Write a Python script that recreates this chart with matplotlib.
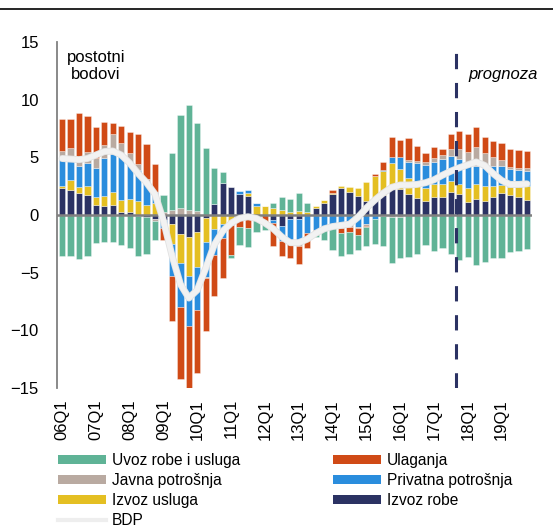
import numpy as np
import matplotlib
matplotlib.use("Agg")
import matplotlib.pyplot as plt
import matplotlib.patheffects as pe
from matplotlib.lines import Line2D
from matplotlib.patches import Patch

plt.rcParams['font.family'] = ['Liberation Sans', 'DejaVu Sans']

# kvartali 2006Q1 - 2019Q4
quarters = [f"{y:02d}Q{q}" for y in range(6, 20) for q in range(1, 5)]
tick_labels = [f"{y:02d}Q1" for y in range(6, 20)]

izvoz_robe = [2.37, 2.17, 1.88, 1.71, 0.87, 0.81, 0.87, 0.23, 0.23, -0.10,
              -0.15, -0.35, -0.43, -0.80, -1.68, -1.88, -1.50, -0.23, 0.92, 2.75,
              2.40, 1.80, 1.65, 0.00, 0.00, -0.43, -0.92, -0.38, -0.38, 0.00,
              0.60, 1.01, 1.79, 2.31, 2.02, 1.65, 1.21, 1.36, 1.70, 2.25,
              2.23, 1.79, 1.45, 1.21, 1.59, 1.53, 2.02, 1.79, 1.10, 1.36,
              1.21, 1.53, 1.88, 1.73, 1.59, 1.30]
izvoz_usluga = [0.17, 0.86, 0.55, 0.80, 0.66, 0.84, 1.15, 1.07, 1.13, 1.21,
                0.90, 1.00, 0.00, -1.75, -2.50, -3.41, -3.03, -2.08, -1.21, -0.78,
                -0.60, 0.00, 0.30, 0.81, 0.81, 0.64, 0.43, 0.23, 0.35, 0.29,
                0.20, 0.32, 0.10, 0.20, 0.43, 0.72, 1.62, 2.02, 2.10, 2.24,
                1.80, 1.45, 1.45, 1.10, 1.10, 1.16, 0.92, 0.90, 1.27, 1.33,
                1.30, 0.98, 0.72, 0.66, 0.87, 1.21]
privatna = [2.29, 1.68, 1.82, 1.97, 2.57, 3.26, 3.27, 4.05, 3.18, 2.69,
            1.90, 1.00, -0.73, -2.75, -3.76, -4.30, -3.70, -3.03, -2.25, -1.24,
            -0.29, 0.29, 0.23, 0.20, 0.00, -0.30, -1.33, -2.00, -2.08, -1.59,
            -1.30, -1.00, -1.01, -0.81, -0.81, -1.01, -0.81, -0.38, 0.09, 0.58,
            1.01, 1.39, 1.65, 2.02, 1.88, 2.17, 2.20, 2.17, 2.11, 1.56,
            1.53, 1.73, 1.65, 1.59, 1.45, 1.33]
javna = [0.72, 1.07, 0.52, 0.95, 0.81, 1.16, 1.73, 0.86, 0.81, 0.52,
         0.35, -0.15, 0.30, 0.45, 0.58, 0.43, 0.35, -0.15, 0.00, 0.00,
         0.00, 0.00, 0.00, 0.00, 0.00, 0.00, 0.00, -0.17, -0.20, 0.00,
         0.00, 0.00, 0.00, -0.29, -0.25, -0.14, -0.12, 0.00, -0.10, -0.20,
         -0.15, 0.10, 0.14, 0.29, 0.38, 0.35, 0.58, 0.87, 1.01, 1.62,
         1.30, 0.81, 0.52, 0.20, 0.20, 0.20]
ulaganja = [2.75, 2.57, 4.05, 3.15, 2.75, 2.02, 0.93, 1.51, 1.85, 2.60,
            3.00, 2.40, -1.01, -3.90, -6.30, -5.66, -5.43, -4.54, -3.53, -3.41,
            -2.54, -1.05, -1.16, 0.00, -0.58, -1.97, -1.27, -1.21, -1.59, -1.24,
            -0.38, 0.00, 0.32, -0.49, -0.40, -0.58, -0.14, 0.14, 0.72, 1.68,
            1.42, 1.97, 1.33, 0.78, 0.92, 0.52, 1.27, 1.56, 1.53, 1.79,
            1.45, 1.39, 1.50, 1.50, 1.53, 1.53]
uvoz = [-3.53, -3.55, -3.80, -3.53, -2.40, -2.31, -2.37, -2.60, -2.89, -3.47,
        -3.20, -1.70, 1.40, 4.95, 8.09, 9.11, 7.60, 5.84, 3.12, 1.00,
        -0.26, -1.53, -1.59, -1.45, -0.70, 0.38, 1.10, 1.16, 1.53, 0.72,
        -0.20, -1.20, -2.02, -1.94, -1.94, -1.30, -1.59, -2.17, -2.60, -3.99,
        -3.60, -3.60, -3.40, -2.60, -3.10, -2.83, -3.38, -3.90, -3.60, -4.34,
        -4.10, -3.76, -3.70, -3.18, -3.09, -2.95]
bdp = [4.90, 4.85, 4.80, 4.90, 5.20, 5.50, 5.55, 5.20, 4.50, 3.60,
       2.80, 1.80, -0.50, -3.50, -6.00, -7.20, -6.50, -4.60, -2.60, -1.40,
       -0.70, -0.30, -0.15, -0.30, -0.70, -1.20, -1.90, -2.40, -2.40, -2.10,
       -1.60, -1.20, -1.00, -0.90, -0.80, -0.20, 0.60, 1.30, 1.90, 2.40,
       2.60, 2.60, 2.65, 2.80, 3.05, 3.45, 3.80, 4.10, 4.35, 4.60,
       4.30, 3.60, 3.00, 2.65, 2.65, 2.70]

series = [
    ("Izvoz robe", izvoz_robe, "#2b3263"),
    ("Izvoz usluga", izvoz_usluga, "#e4bf22"),
    ("Privatna potrošnja", privatna, "#2a8ddd"),
    ("Javna potrošnja", javna, "#b9aaa1"),
    ("Ulaganja", ulaganja, "#d04a16"),
    ("Uvoz robe i usluga", uvoz, "#5fb396"),
]

x = np.arange(len(quarters))

fig = plt.figure(figsize=(5.53, 5.28), dpi=100)
ax = fig.add_axes([57 / 553, 140 / 528, 475 / 553, 346 / 528])

pos_base = np.zeros(len(x))
neg_base = np.zeros(len(x))
colors = {}
for name, vals, col in series:
    v = np.array(vals)
    colors[name] = col
    bottom = np.where(v >= 0, pos_base, neg_base)
    ax.bar(x, v, bottom=bottom, width=0.74, color=col,
           edgecolor=(1, 1, 1, 0.6), linewidth=0.4, zorder=2)
    pos_base += np.where(v >= 0, v, 0)
    neg_base += np.where(v < 0, v, 0)

ax.axhline(0, color="#808080", lw=1.8, zorder=3)

ax.plot(x, bdp, color="#f2f2f2", lw=3.8, solid_capstyle="round", zorder=4,
        path_effects=[pe.Stroke(linewidth=5, foreground="#e2e2e2"), pe.Normal()])

ax.axvline(46.6, color="#2b3263", lw=2.2, ls=(0, (5, 4.5)), zorder=5)

ax.set_xlim(-0.6, 55.6)
ax.set_ylim(-15, 15)
ax.set_yticks([-15, -10, -5, 0, 5, 10, 15])
ax.set_xticks(x[::4])
ax.set_xticklabels(tick_labels, rotation=90)
ax.tick_params(axis="both", length=0, labelsize=12)
ax.tick_params(axis="y", pad=13)
ax.tick_params(axis="x", pad=8)

for s in ["top", "right", "bottom"]:
    ax.spines[s].set_visible(False)
ax.spines["left"].set_color("#808080")
ax.spines["left"].set_linewidth(1.3)

ax.text(0.082, 0.93, "postotni\nbodovi", transform=ax.transAxes,
        ha="center", va="center", fontsize=12, linespacing=1.15)
ax.text(0.94, 0.905, "prognoza", transform=ax.transAxes, ha="center",
        va="center", fontsize=12, style="italic")

# legenda u dva stupca (popunjava se po stupcima)
def h(name):
    return Patch(facecolor=colors[name], edgecolor="none")

handles = [h("Uvoz robe i usluga"), h("Javna potrošnja"), h("Izvoz usluga"),
           Line2D([], [], color="#eeeeee", lw=3),
           h("Ulaganja"), h("Privatna potrošnja"), h("Izvoz robe")]
labels = ["Uvoz robe i usluga", "Javna potrošnja", "Izvoz usluga", "BDP",
          "Ulaganja", "Privatna potrošnja", "Izvoz robe"]
fig.legend(handles, labels, ncol=2, loc="upper left",
           bbox_to_anchor=(58 / 553, 1 - 453 / 528), frameon=False,
           fontsize=11.2, handlelength=3.1, handleheight=0.55,
           handletextpad=0.35, columnspacing=6.0, labelspacing=0.33,
           borderaxespad=0, borderpad=0)

fig.add_artist(Line2D([0, 1], [1 - 9 / 528, 1 - 9 / 528], color="black", lw=1.2))

fig.savefig("out.png", dpi=100)
